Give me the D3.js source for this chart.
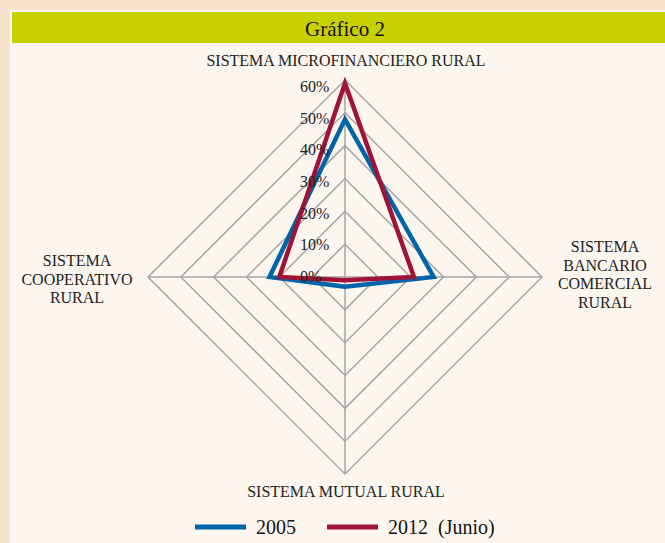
<!DOCTYPE html>
<html>
<head>
<meta charset="utf-8">
<script src="https://cdn.jsdelivr.net/npm/d3@7"></script>
<style>
  body { margin: 0; background: #f8e4cd; }
  svg { display: block; }
  svg text { font-family: "Liberation Serif", "Times New Roman", serif; }
</style>
</head>
<body>
<svg id="chart"></svg>
<script>
// categories (clockwise from top) and series values
var categories = [
    ["SISTEMA MICROFINANCIERO RURAL"],
    ["SISTEMA", "BANCARIO", "COMERCIAL", "RURAL"],
    ["SISTEMA MUTUAL RURAL"],
    ["SISTEMA", "COOPERATIVO", "RURAL"]
]
var values2005 = [0.48, 0.27, 0.03, 0.23]
var values2012 = [0.59, 0.21, 0.01, 0.20]
var tickValues = [0, 0.1, 0.2, 0.3, 0.4, 0.5, 0.6]
var seriesNames = ["2005", "2012  (Junio)"]

var width = 665
var height = 543
var cx = 345
var cy = 277
var radius = 197

var svg = d3.select("#chart")
    .attr("width", width)
    .attr("height", height)

// panel + title bar
svg.append("rect").attr("x", 0).attr("y", 0).attr("width", width).attr("height", height).attr("fill", "#f8e4cd")
svg.append("rect").attr("x", 10).attr("y", 10).attr("width", width - 10).attr("height", height - 10).attr("fill", "#fffaf4")
svg.append("rect").attr("x", 12).attr("y", 12).attr("width", width - 12).attr("height", height - 12).attr("fill", "#fdf6ef")
svg.append("rect").attr("x", 12).attr("y", 12).attr("width", width - 12).attr("height", 31).attr("fill", "#c8d100")
svg.append("text")
    .attr("x", cx).attr("y", 36)
    .attr("text-anchor", "middle")
    .style("font-size", "21px")
    .attr("fill", "#111")
    .text("Gráfico 2")

var r = d3.scaleLinear().domain([0, 0.6]).range([0, radius])
var angle = d3.scaleLinear().domain([0, categories.length]).range([0, 2 * Math.PI])

function point(i, v) {
    var a = angle(i)
    return [cx + r(v) * Math.sin(a), cy - r(v) * Math.cos(a)]
}

var g = svg.append("g")

// diamond rings
tickValues.slice(1).forEach(function(t) {
    var pts = categories.map(function(c, i) { return point(i, t) })
    g.append("path")
        .attr("d", d3.line()(pts) + "Z")
        .attr("fill", "none")
        .attr("stroke", "#a6a6a6")
        .attr("stroke-width", 1.5)
})

// spokes
categories.forEach(function(c, i) {
    var p = point(i, 0.6)
    g.append("line")
        .attr("x1", cx).attr("y1", cy)
        .attr("x2", p[0]).attr("y2", p[1])
        .attr("stroke", "#a6a6a6")
        .attr("stroke-width", 1.5)
})

// series
var colors = ["#0065a8", "#a11237"]
var series = [values2005, values2012]
series.forEach(function(vals, k) {
    var pts = vals.map(function(v, i) { return point(i, v) })
    g.append("path")
        .attr("d", d3.line()(pts) + "Z")
        .attr("fill", "none")
        .attr("stroke", colors[k])
        .attr("stroke-width", 4.5)
        .attr("stroke-linejoin", "miter")
})

// tick labels along top axis (spacing a bit tighter than the rings)
var tickLabelY = d3.scaleLinear().domain([0, 0.6]).range([cy + 5, cy + 5 - 190])
g.selectAll(".tick")
    .data(tickValues)
    .enter()
    .append("text")
    .attr("x", 300)
    .attr("y", function(d) { return tickLabelY(d) })
    .style("font-size", "16px")
    .attr("fill", "#222")
    .text(d3.format(".0%"))

// category labels
var labelPos = [
    { x: 346, y: 66, dy: 0 },
    { x: 605, y: 252, dy: 18.7 },
    { x: 346, y: 497, dy: 0 },
    { x: 77, y: 266, dy: 18.5 }
]
categories.forEach(function(lines, i) {
    var t = svg.append("text")
        .attr("text-anchor", "middle")
        .style("font-size", "16px")
        .attr("fill", "#222")
    lines.forEach(function(line, j) {
        t.append("tspan")
            .attr("x", labelPos[i].x)
            .attr("y", labelPos[i].y + j * labelPos[i].dy)
            .text(line)
    })
})

// legend
var legend = svg.append("g")
var legendX = [195, 327]
seriesNames.forEach(function(name, k) {
    legend.append("line")
        .attr("x1", legendX[k]).attr("x2", legendX[k] + 51)
        .attr("y1", 527).attr("y2", 527)
        .attr("stroke", colors[k])
        .attr("stroke-width", 5)
    legend.append("text")
        .attr("x", legendX[k] + 61)
        .attr("y", 534)
        .style("font-size", "20px")
        .style("white-space", "pre")
        .attr("fill", "#111")
        .text(name)
})
</script>
</body>
</html>
